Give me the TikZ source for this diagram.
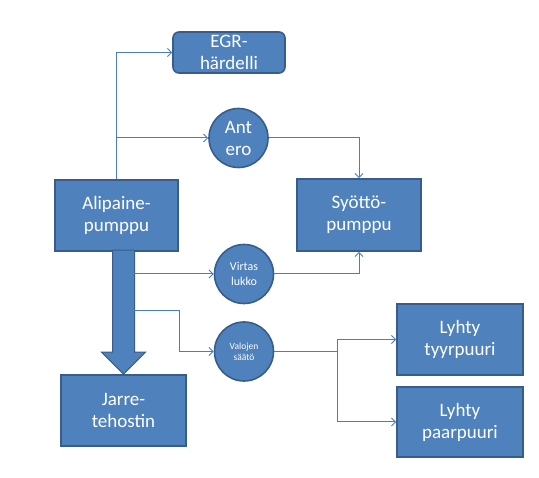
\documentclass[tikz,border=0pt]{standalone}
\usepackage{fontspec}
\setmainfont{Carlito}
\usepackage{xcolor}
\usetikzlibrary{arrows.meta,positioning,calc}

\definecolor{boxfill}{HTML}{4F81BD}
\definecolor{boxline}{HTML}{385D8A}
\definecolor{wire}{HTML}{4A7EBB}

\tikzset{
  part/.style={rectangle, fill=boxfill, draw=boxline, line width=1.6pt,
    text=white, align=center, inner sep=0pt,
    font=\fontsize{19}{22}\selectfont},
  relay/.style={circle, fill=boxfill, draw=boxline, line width=1.6pt,
    text=white, align=center, inner sep=0pt, minimum size=59pt},
  conn/.style={wire, line width=1pt, -{Straight Barb[length=4pt,width=8pt]}},
  wireonly/.style={wire, line width=1pt}
}

\begin{document}
\begin{tikzpicture}[x=1pt, y=-1pt]
  \useasboundingbox (0,0) rectangle (539,478);

  % Pumps and boxes
  \node[part, rounded corners=6pt, minimum width=112pt, minimum height=41pt]
    (egr) at (229,52.5) {EGR-\\härdelli};
  \node[part, minimum width=123pt, minimum height=71pt]
    (alip) at (116.5,215.5) {Alipaine-\\pumppu};
  \node[part, minimum width=124pt, minimum height=72pt]
    (syotto) at (359,215) {Syöttö-\\pumppu};
  \node[part, minimum width=125pt, minimum height=71pt]
    (jarre) at (123.5,410.5) {Jarre-\\tehostin};
  \node[part, minimum width=126pt, minimum height=71pt]
    (tyyr) at (460,339.5) {Lyhty\\tyyrpuuri};
  \node[part, minimum width=126pt, minimum height=70pt]
    (paar) at (460,422) {Lyhty\\paarpuuri};

  % Relays
  \node[relay, font=\fontsize{19}{22}\selectfont]
    (antero) at (238.5,138) {Ant\\ero};
  \node[relay, font=\fontsize{12}{14.5}\selectfont]
    (virtas) at (244,274) {Virtas\\lukko};
  \node[relay, font=\fontsize{9.5}{11.5}\selectfont]
    (valojen) at (244,351.5) {Valojen\\säätö};

  % Thick arrow to the brake booster
  \coordinate (tip) at (jarre.north);
  \fill[boxfill, draw=boxline, line width=1pt]
    (tip) -- ++(-22,-22) -- ++(11,0) -- ++(0,-102) -- ++(22,0)
    -- ++(0,102) -- ++(11,0) -- cycle;

  % Connectors
  \draw[conn] (alip.north) |- (egr.west);
  \draw[conn] (alip.north) |- (antero.west);
  \draw[conn] (antero.east) -| (syotto.north);

  \coordinate (s1) at (134,274);
  \coordinate (s2) at (134,311);
  \coordinate (k2) at (179,311);
  \draw[conn] (s1) -- (virtas.west);
  \draw[conn] (virtas.east) -| (syotto.south);
  \draw[conn] (s2) -- (k2) |- (valojen.west);

  \coordinate (split) at (337,351.5);
  \draw[wireonly] (valojen.east) -- (split);
  \draw[conn] (split) |- (tyyr.west);
  \draw[conn] (split) |- (paar.west);

\end{tikzpicture}
\end{document}
